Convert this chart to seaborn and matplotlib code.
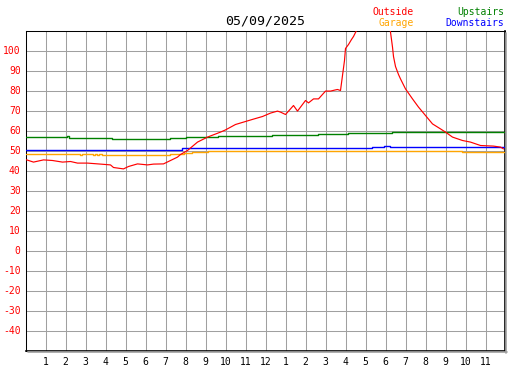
import matplotlib
matplotlib.use("Agg")
import matplotlib.pyplot as plt
from matplotlib.lines import Line2D
import seaborn as sns
import pandas as pd

# ---- data (hours since midnight, temperature) ----
title_text = "05/09/2025"

outside_h = [0.0, 0.4, 0.9, 1.35, 1.85, 2.25, 2.6, 3.1, 3.75, 4.25, 4.4, 4.9, 5.15, 5.6,
             6.1, 6.4, 6.9, 7.25, 7.6, 7.75, 8.1, 8.6, 9.1, 9.75, 10.0, 10.5, 10.9, 11.4,
             11.85, 12.25, 12.6, 12.75, 13.0, 13.25, 13.4, 13.6, 14.0, 14.15, 14.4, 14.65,
             15.0, 15.25, 15.5, 15.6, 15.75, 15.85, 15.95, 16.0, 16.15, 16.3, 16.4, 16.55,
             16.8, 17.3, 17.8, 18.2, 18.25, 18.35, 18.4, 18.5, 18.65, 18.75, 19.0, 19.35,
             19.65, 20.0, 20.35, 20.75, 21.0, 21.35, 21.85, 22.25, 22.75, 23.4, 23.75, 23.9]
outside_v = [45.5, 44.2, 45.3, 45.0, 44.2, 44.5, 43.7, 43.7, 43.2, 42.8, 41.5, 40.8, 42.0, 43.3,
             42.8, 43.2, 43.3, 45.0, 46.7, 48.0, 50.0, 54.2, 56.7, 59.2, 60.3, 63.0, 64.2, 65.7,
             67.0, 68.7, 69.7, 69.2, 68.0, 70.8, 72.5, 69.7, 75.0, 73.8, 75.8, 75.8,
             79.7, 79.7, 80.3, 80.5, 80.0, 87.5, 95.0, 101.0, 103.0, 105.5, 107.0, 110.0,
             116.0, 120.0, 118.0, 113.0, 109.2, 101.7, 97.0, 92.0, 88.0, 85.8, 80.8, 75.8,
             71.7, 67.5, 63.3, 60.8, 59.2, 56.7, 55.0, 54.2, 52.5, 52.2, 51.7, 50.8]

upstairs_h = [0.0, 2.0, 2.08, 2.15, 4.3, 7.2, 8.0, 9.6, 12.3, 14.6, 16.1, 18.3, 23.95]
upstairs_v = [57.0, 57.0, 57.5, 56.5, 56.0, 56.5, 56.8, 57.3, 57.8, 58.3, 59.0, 59.5, 59.5]

downstairs_h = [0.0, 7.8, 9.1, 17.3, 17.5, 17.6, 17.9, 18.2, 18.3, 18.5, 18.6, 23.95]
downstairs_v = [50.3, 51.2, 51.5, 52.0, 51.6, 52.0, 52.1, 51.6, 52.0, 51.7, 52.0, 52.0]

garage_h = [0.0, 2.7, 2.8, 3.35, 3.45, 3.55, 3.65, 3.8, 7.2, 7.9, 8.3, 9.1, 21.8, 23.95]
garage_v = [48.5, 48.0, 48.5, 48.0, 48.5, 48.0, 48.5, 48.0, 48.5, 49.0, 49.5, 50.0, 49.5, 49.5]

y_ticks = [-40, -30, -20, -10, 0, 10, 20, 30, 40, 50, 60, 70, 80, 90, 100]
x_ticks = list(range(1, 24))
x_tick_labels = ["1", "2", "3", "4", "5", "6", "7", "8", "9", "10", "11", "12",
                 "1", "2", "3", "4", "5", "6", "7", "8", "9", "10", "11"]

series_names = ["Outside", "Garage", "Upstairs", "Downstairs"]
series_colors = {"Outside": "#ff0000", "Garage": "#ffa500",
                 "Upstairs": "#008000", "Downstairs": "#0000ff"}

# ---- figure ----
sns.set_style("white")
plt.rcParams["font.family"] = ["DejaVu Sans Mono", "DejaVu Sans"]

W, H = 527, 370
fig = plt.figure(figsize=(W / 100, H / 100), dpi=100)
L, R, T, B = 25.5, 504.5, 30.5, 350.5
ax = fig.add_axes([L / W, 1 - B / H, (R - L) / W, (B - T) / H])

grid_c = "#a0a0a0"
lw = 1.0

df_out = pd.DataFrame({"h": outside_h, "v": outside_v})
df_up = pd.DataFrame({"h": upstairs_h, "v": upstairs_v})
df_dn = pd.DataFrame({"h": downstairs_h, "v": downstairs_v})
df_ga = pd.DataFrame({"h": garage_h, "v": garage_v})

sns.lineplot(data=df_up, x="h", y="v", ax=ax, color=series_colors["Upstairs"],
             linewidth=lw, drawstyle="steps-post", zorder=3)
sns.lineplot(data=df_ga, x="h", y="v", ax=ax, color=series_colors["Garage"],
             linewidth=lw, drawstyle="steps-post", zorder=3)
sns.lineplot(data=df_dn, x="h", y="v", ax=ax, color=series_colors["Downstairs"],
             linewidth=lw, drawstyle="steps-post", zorder=3)
sns.lineplot(data=df_out, x="h", y="v", ax=ax, color=series_colors["Outside"],
             linewidth=0.85, zorder=4)

ax.set_xlim(0, 23.95)
ax.set_ylim(-50, 110)
ax.set_xlabel("")
ax.set_ylabel("")

ax.set_yticks(y_ticks)
ax.set_yticklabels([str(t) for t in y_ticks], color="#ff0000", fontsize=7)
ax.set_xticks(x_ticks)
ax.set_xticklabels(x_tick_labels, color="black", fontsize=7)
ax.tick_params(axis="y", direction="in", length=3.5, width=1, colors="black",
               labelcolor="#ff0000", pad=3.5)
ax.tick_params(axis="x", direction="in", length=3.5, width=1, colors="black",
               labelcolor="black", pad=4.5)

ax.grid(True, color=grid_c, linewidth=0.75)
ax.set_axisbelow(True)

for s in ["left", "top"]:
    ax.spines[s].set_color("black")
    ax.spines[s].set_linewidth(0.75)
for s in ["right", "bottom"]:
    ax.spines[s].set_color("black")
    ax.spines[s].set_linewidth(1.2)

# drop shadow on right and bottom
fig.add_artist(Line2D([(R + 1.8) / W, (R + 1.8) / W], [1 - (T + 2) / H, 1 - (B + 2.3) / H],
                      transform=fig.transFigure, color=grid_c, linewidth=1.2))
fig.add_artist(Line2D([(L + 2) / W, (R + 2.5) / W], [1 - (B + 1.8) / H, 1 - (B + 1.8) / H],
                      transform=fig.transFigure, color=grid_c, linewidth=1.2))

# title and legend texts
fig.text((L + R) / 2 / W, 1 - 25 / H, title_text, ha="center", va="baseline",
         fontsize=9.5, color="black")
fig.text(414 / W, 1 - 15 / H, "Outside", ha="right", va="baseline", fontsize=7,
         color=series_colors["Outside"])
fig.text(414 / W, 1 - 26.5 / H, "Garage", ha="right", va="baseline", fontsize=7,
         color=series_colors["Garage"])
fig.text(504 / W, 1 - 15 / H, "Upstairs", ha="right", va="baseline", fontsize=7,
         color=series_colors["Upstairs"])
fig.text(504 / W, 1 - 26.5 / H, "Downstairs", ha="right", va="baseline", fontsize=7,
         color=series_colors["Downstairs"])

fig.savefig("out.png", dpi=100)
